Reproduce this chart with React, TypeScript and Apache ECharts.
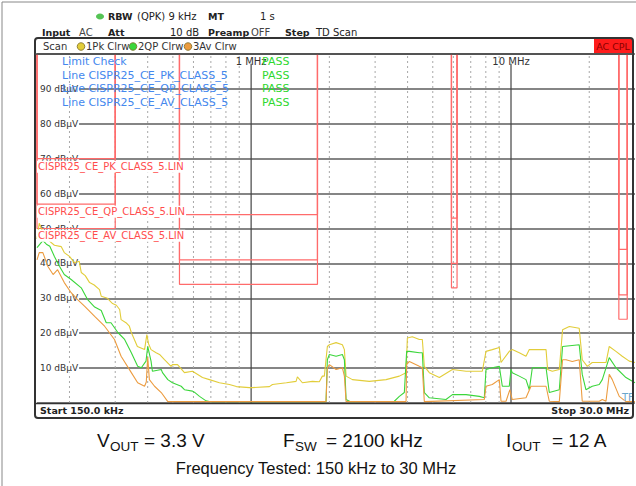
import React, { useEffect, useRef } from "react";
import * as echarts from "echarts";

const FONT = "DejaVu Sans";
const CAP_FONT = "Liberation Sans";

// Frequency axis (MHz, log scale)
const startMHz = 0.15;
const stopMHz = 30;
const minorGridMHz = [0.2, 0.3, 0.4, 0.5, 0.6, 0.7, 0.8, 0.9, 2, 3, 4, 5, 6, 7, 8, 9, 20];
const majorGridMHz = [1, 10];
const majorGridLabels = ["1 MHz", "10 MHz"];

// Level axis (dBµV)
const levelMin = 0;
const levelMax = 100;
const levelStep = 10;
const levelLabels = [10, 20, 30, 40, 50, 60, 70, 80, 90];

// CISPR 25 class 5 limit bands
const bandStartMHz = [0.15, 0.53, 5.9, 26];
const bandStopMHz = [0.3, 1.8, 6.2, 28];
const limitPk = [70, 54, 53, 44];
const limitQp = [57, 41, 40, 31];
const limitAv = [50, 34, 33, 24];
const limitLabels = ["CISPR25_CE_PK_CLASS_5.LIN", "CISPR25_CE_QP_CLASS_5.LIN", "CISPR25_CE_AV_CLASS_5.LIN"];
const limitCheckLines = ["Line CISPR25_CE_PK_CLASS_5", "Line CISPR25_CE_QP_CLASS_5", "Line CISPR25_CE_AV_CLASS_5"];

// Trace 1: Peak (yellow)
const pkTrace: [number, number][] = [
  [0.15, 47.0], [0.153, 51.5], [0.158, 49.0], [0.168, 46.3], [0.175, 45.2], [0.186, 44.8],
  [0.191, 43.1], [0.2, 42.0], [0.209, 40.2], [0.218, 40.6], [0.222, 37.4], [0.23, 36.5],
  [0.239, 34.5], [0.249, 33.8], [0.261, 32.5], [0.265, 30.6], [0.28, 30.0], [0.293, 28.5],
  [0.303, 28.0], [0.312, 26.8], [0.316, 23.9], [0.33, 23.0], [0.34, 22.0], [0.346, 20.2],
  [0.365, 16.2], [0.389, 15.3], [0.397, 19.6], [0.403, 17.0], [0.412, 15.3], [0.431, 14.4],
  [0.446, 13.8], [0.464, 12.4], [0.492, 10.5], [0.498, 11.0], [0.521, 11.0], [0.554, 8.7],
  [0.595, 9.1], [0.65, 7.3], [0.691, 6.7], [0.755, 5.8], [0.825, 5.3], [0.878, 4.7],
  [0.985, 4.4], [1.011, 4.4], [1.176, 4.7], [1.208, 5.3], [1.367, 5.8], [1.489, 6.2],
  [1.507, 7.5], [1.575, 5.8], [1.721, 6.2], [1.83, 6.1], [1.88, 7.7], [1.913, 7.7],
  [1.965, 16.2], [2.0, 16.7], [2.123, 17.3], [2.245, 16.7], [2.285, 15.3], [2.32, 7.7],
  [2.453, 6.7], [2.85, 6.2], [3.305, 6.7], [3.718, 7.7], [3.946, 8.7], [3.992, 18.6],
  [4.172, 19.0], [4.439, 18.2], [4.558, 18.2], [4.64, 10.5], [4.85, 8.7], [5.3, 7.3],
  [5.948, 9.6], [6.715, 9.1], [7.755, 9.1], [8.013, 14.8], [8.472, 15.3], [9.016, 15.9],
  [9.154, 11.6], [9.849, 14.8], [10.11, 15.3], [10.76, 14.4], [11.42, 13.4], [11.76, 15.3],
  [13.64, 15.3], [13.83, 9.6], [14.42, 9.1], [15.34, 9.6], [15.79, 21.0], [16.76, 21.9],
  [18.3, 21.4], [18.8, 12.4], [19.65, 10.5], [20.54, 11.6], [21.86, 11.6], [23.2, 11.6],
  [23.88, 16.2], [25.34, 14.8], [26.79, 13.4], [28.51, 12.0], [30.0, 11.6],
];

// Trace 2: Quasi-peak (green)
const qpTrace: [number, number][] = [
  [0.15, 44.5], [0.158, 46.5], [0.163, 45.5], [0.168, 44.9], [0.175, 42.0], [0.183, 39.2],
  [0.191, 36.8], [0.203, 35.4], [0.222, 33.0], [0.235, 29.6], [0.25, 27.5], [0.265, 26.5],
  [0.277, 23.0], [0.289, 23.0], [0.307, 20.2], [0.326, 18.2], [0.346, 14.4], [0.366, 10.5],
  [0.378, 10.1], [0.394, 12.0], [0.4, 16.2], [0.412, 12.0], [0.417, 9.1], [0.451, 9.6],
  [0.456, 8.7], [0.478, 6.7], [0.498, 5.8], [0.538, 4.8], [0.554, 3.8], [0.595, 3.4],
  [0.605, 3.1], [0.633, 1.9], [0.671, 0.6], [0.691, 0.4], [1.942, 0.4], [1.965, 12.4],
  [2.0, 13.9], [2.123, 13.4], [2.245, 13.9], [2.285, 12.4], [2.32, 1.0], [2.4, 0.4],
  [3.557, 0.5], [3.718, 1.9], [3.887, 3.0], [3.967, 14.8], [4.063, 14.8], [4.439, 14.4],
  [4.558, 14.4], [4.64, 3.0], [4.85, 1.5], [5.622, 1.0], [5.948, 2.4], [6.715, 2.4],
  [7.551, 1.9], [7.894, 1.5], [8.013, 9.6], [8.472, 10.1], [9.016, 10.5], [9.26, 4.8],
  [9.849, 4.8], [9.998, 9.6], [10.11, 8.7], [10.76, 7.7], [11.42, 6.7], [11.76, 3.8],
  [12.08, 10.1], [13.64, 10.1], [14.04, 3.0], [15.34, 3.8], [15.79, 16.2], [18.3, 16.7],
  [18.8, 8.2], [19.42, 3.8], [20.54, 4.8], [21.86, 5.3], [22.45, 6.7], [23.88, 13.0],
  [25.34, 10.1], [27.69, 7.3], [30.0, 5.8],
];

// Trace 3: Average (orange)
const avTrace: [number, number][] = [
  [0.15, 41.0], [0.153, 43.1], [0.158, 43.1], [0.165, 39.2], [0.173, 36.8], [0.18, 38.2],
  [0.191, 34.5], [0.203, 31.6], [0.215, 29.6], [0.229, 27.7], [0.25, 24.8], [0.273, 22.0],
  [0.298, 18.2], [0.316, 13.4], [0.346, 8.7], [0.366, 5.8], [0.389, 4.8], [0.395, 6.0],
  [0.4, 13.2], [0.406, 6.7], [0.425, 4.8], [0.451, 3.0], [0.478, 0.4], [1.942, 0.4],
  [1.965, 10.1], [2.0, 11.0], [2.123, 9.6], [2.245, 10.1], [2.285, 7.7], [2.32, 0.4],
  [3.946, 0.4], [3.967, 11.0], [4.063, 11.9], [4.439, 10.5], [4.558, 10.1], [4.64, 0.4],
  [7.894, 1.0], [8.013, 4.8], [8.472, 5.3], [9.016, 6.7], [9.154, 0.5], [9.568, 0.5],
  [9.9, 3.8], [10.11, 1.0], [11.42, 1.5], [11.94, 4.8], [13.64, 4.8], [14.04, 0.5],
  [15.34, 0.4], [15.79, 12.4], [16.28, 12.4], [17.21, 11.9], [18.3, 12.4], [18.8, 0.5],
  [21.86, 0.5], [22.45, 1.0], [23.2, 0.5], [23.88, 8.2], [24.53, 6.7], [26.09, 1.9],
  [27.69, 0.4], [30.0, 0.4],
];

const traceColors = { pk: "#e2cd3a", qp: "#3bd63b", av: "#ec9c40" };
const limitColor = "#ff6b6b";

function limitData(levels: number[]) {
  const d: (number | null)[][] = [];
  levels.forEach((lv, i) => {
    d.push([bandStartMHz[i], levelMax], [bandStartMHz[i], lv], [bandStopMHz[i], lv], [bandStopMHz[i], levelMax], [bandStopMHz[i], null]);
  });
  return d;
}

function vLines(freqs: number[], top: number) {
  const d: (number | null)[][] = [];
  freqs.forEach((f) => d.push([f, levelMin], [f, top], [f, null]));
  return d;
}

const txt = (x: number, y: number, text: string, o: any = {}, z = 20) => ({
  type: "text",
  x,
  y,
  z,
  style: {
    text,
    fontFamily: FONT,
    fontSize: 10,
    fill: "#222",
    verticalAlign: "middle",
    ...o,
  },
});

export default function App() {
  const ref = useRef<HTMLDivElement>(null);
  useEffect(() => {
    const chart = echarts.init(ref.current!, null, { renderer: "svg" });
    const lineSeries = (name: string, data: any, color: string, width = 1, extra: any = {}) => ({
      name,
      type: "line",
      data,
      symbol: "none",
      silent: true,
      connectNulls: false,
      lineStyle: { color, width },
      ...extra,
    });
    const option: any = {
      animation: false,
      backgroundColor: "#fff",
      grid: { left: 37, top: 54, width: 598, height: 349 },
      xAxis: {
        type: "log",
        logBase: 10,
        min: startMHz,
        max: stopMHz,
        axisLine: { show: false },
        axisTick: { show: false },
        axisLabel: { show: false },
        splitLine: { show: false },
      },
      yAxis: {
        type: "value",
        min: levelMin,
        max: levelMax,
        interval: levelStep,
        axisLine: { show: false },
        axisTick: { show: false },
        axisLabel: { show: false },
        splitLine: { lineStyle: { color: "#5c5c5c", width: 1.5 } },
      },
      series: [
        lineSeries("minorGrid", vLines(minorGridMHz, levelMax), "#a8a8a8", 1, {
          lineStyle: { color: "#a8a8a8", width: 1, type: [2, 3] },
          z: 1,
        }),
        lineSeries("majorGrid", vLines(majorGridMHz, 97.2), "#444", 1.2, { z: 1 }),
        lineSeries("PK limit", limitData(limitPk), limitColor, 1.2),
        lineSeries("QP limit", limitData(limitQp), limitColor, 1.2),
        lineSeries("AV limit", limitData(limitAv), limitColor, 1.2),
        lineSeries("1Pk Clrw", pkTrace, traceColors.pk, 1.1),
        lineSeries("2QP Clrw", qpTrace, traceColors.qp, 1.1),
        lineSeries("3Av Clrw", avTrace, traceColors.av, 1.1),
      ],
    };
    chart.setOption(option);

    const graphics: any[] = [];
    // figure border
    graphics.push({ type: "line", shape: { x1: 2, y1: 2, x2: 636, y2: 2 }, style: { stroke: "#888", lineWidth: 1 }, z: 20 });
    graphics.push({ type: "line", shape: { x1: 2, y1: 2, x2: 2, y2: 486 }, style: { stroke: "#888", lineWidth: 1 }, z: 20 });
    // instrument frame
    graphics.push({ type: "rect", shape: { x: 35, y: 38, width: 598, height: 380, r: 3 }, style: { fill: "none", stroke: "#333", lineWidth: 2 }, z: 21 });
    graphics.push({ type: "line", shape: { x1: 35, y1: 54, x2: 633, y2: 54 }, style: { stroke: "#444", lineWidth: 1.5 }, z: 21 });
    graphics.push({ type: "line", shape: { x1: 35, y1: 403.5, x2: 633, y2: 403.5 }, style: { stroke: "#333", lineWidth: 1.5 }, z: 21 });

    // header
    graphics.push({ type: "ellipse", shape: { cx: 100, cy: 16.5, rx: 4, ry: 3 }, style: { fill: "#55c455" }, z: 20 });
    graphics.push(txt(108, 16.5, "RBW", { fontWeight: "bold", fontSize: 9.5 }));
    graphics.push(txt(137, 16.5, "(QPK) 9 kHz"));
    graphics.push(txt(208, 16.5, "MT", { fontWeight: "bold", fontSize: 9.5 }));
    graphics.push(txt(260, 16.5, "1 s"));
    graphics.push(txt(42, 32, "Input", { fontWeight: "bold", fontSize: 9.5 }));
    graphics.push(txt(79, 32, "AC", { fill: "#444" }));
    graphics.push(txt(108, 32, "Att", { fontWeight: "bold", fontSize: 9.5 }));
    graphics.push(txt(170, 32, "10 dB"));
    graphics.push(txt(208, 32, "Preamp", { fontWeight: "bold", fontSize: 9.5 }));
    graphics.push(txt(251, 32, "OFF", { fill: "#444" }));
    graphics.push(txt(285, 32, "Step", { fontWeight: "bold", fontSize: 9.5 }));
    graphics.push(txt(316, 32, "TD Scan"));

    // scan bar
    graphics.push(txt(43, 46.5, "Scan", { fill: "#333" }));
    const dots = [
      [81, traceColors.pk, "1Pk Clrw", 86],
      [133, traceColors.qp, "2QP Clrw", 138],
      [188, traceColors.av, "3Av Clrw", 193],
    ] as const;
    dots.forEach(([cx, c, t, tx]) => {
      graphics.push({ type: "circle", shape: { cx, cy: 46.5, r: 3.8 }, style: { fill: c, stroke: "#7a6a20", lineWidth: 0.8 }, z: 20 });
      graphics.push(txt(tx, 46.5, t, { fill: "#333" }));
    });
    graphics.push({ type: "rect", shape: { x: 594, y: 39, width: 38, height: 14 }, style: { fill: "#ff1c1c" }, z: 20 });
    graphics.push(txt(613, 46.5, "AC CPL", { align: "center", fill: "#8a0000", fontSize: 9.5 }));

    // level labels (inside the plot, covering the grid line start)
    levelLabels.forEach((v) => {
      const p = chart.convertToPixel({ gridIndex: 0 }, [startMHz, v]) as number[];
      graphics.push(
        txt(p[0], p[1], `${v} dBµV`, { fill: "#333", fontSize: 9, backgroundColor: "#fff", padding: [0, 1, 0, 3] }, 1.5)
      );
    });

    // limit check legend
    const blue = "#4488ee";
    graphics.push(txt(62, 61.5, "Limit Check", { fill: blue, fontSize: 11 }));
    limitCheckLines.forEach((t, i) => {
      const y = 75 + i * 13.7;
      graphics.push(txt(62, y, t, { fill: blue, fontSize: 11 }));
      graphics.push(txt(262, y, "PASS", { fill: "#2fd82f", fontSize: 11 }));
    });
    graphics.push(txt(262, 61.5, "PASS", { fill: "#2fd82f", fontSize: 11 }));

    // limit line labels
    const labelYs = [166.7, 211.7, 235.7];
    limitLabels.forEach((t, i) => {
      graphics.push(txt(37, labelYs[i], t, { fill: "#ff4d4d", backgroundColor: "#fff", padding: [1, 1, 1, 1], fontSize: 10 }));
    });

    // major frequency labels
    majorGridMHz.forEach((f, i) => {
      const p = chart.convertToPixel({ gridIndex: 0 }, [f, levelMax]) as number[];
      graphics.push(txt(p[0], 61.5, majorGridLabels[i], { align: "center", fill: "#333" }, 19));
    });

    // bottom bar
    graphics.push(txt(40, 410.5, "Start 150.0 kHz", { fontWeight: "bold", fontSize: 9.5 }));
    graphics.push(txt(629, 410.5, "Stop 30.0 MHz", { fontWeight: "bold", fontSize: 9.5, align: "right" }));
    graphics.push(txt(622, 397, "TF", { fill: "#6aa6cc" }));

    // caption
    const cap = (x: number, y: number, text: string, size = 19) => ({
      type: "text",
      x,
      y,
      z: 20,
      style: { text, fontFamily: CAP_FONT, fontSize: size, fill: "#111", verticalAlign: "middle" },
    });
    graphics.push(cap(97, 440, "V"));
    graphics.push(cap(110, 446, "OUT", 13.5));
    graphics.push(cap(144, 440, "= 3.3 V"));
    graphics.push(cap(283, 440, "F"));
    graphics.push(cap(295, 446, "SW", 13.5));
    graphics.push(cap(326, 440, "= 2100 kHz"));
    graphics.push(cap(506, 440, "I"));
    graphics.push(cap(512, 446, "OUT", 13.5));
    graphics.push(cap(552, 440, "= 12 A"));
    graphics.push({
      type: "text",
      x: 316,
      y: 468,
      z: 20,
      style: { text: "Frequency Tested: 150 kHz to 30 MHz", fontFamily: CAP_FONT, fontSize: 16.5, fill: "#111", align: "center", verticalAlign: "middle" },
    });

    chart.setOption({ graphic: { elements: graphics } });
    return () => chart.dispose();
  }, []);
  return (
    <div
      ref={ref}
      style={{ position: "absolute", left: 0, top: 0, width: 636, height: 486, background: "#fff", overflow: "hidden" }}
    />
  );
}
